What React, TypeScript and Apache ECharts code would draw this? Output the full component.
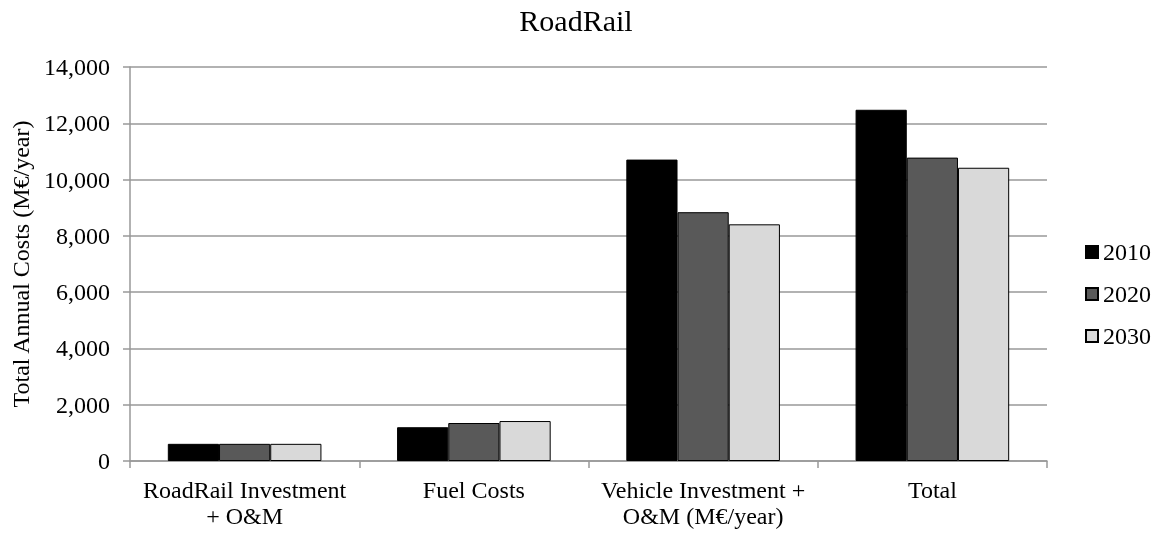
import React, { useEffect, useRef } from "react";
import * as echarts from "echarts";

const categories = ["RoadRail Investment\n+ O&M", "Fuel Costs", "Vehicle Investment +\nO&M (M€/year)", "Total"];
const s2010 = [610, 1200, 10710, 12480];
const s2020 = [610, 1350, 8840, 10780];
const s2030 = [610, 1420, 8410, 10420];
const seriesNames = ["2010", "2020", "2030"];
const colors = ["#000000", "#595959", "#d9d9d9"];

export default function App() {
  const ref = useRef<HTMLDivElement>(null);
  useEffect(() => {
    const chart = echarts.init(ref.current!, null, { renderer: "svg" });
    const font = "Liberation Serif";
    const data = [s2010, s2020, s2030];
    chart.setOption({
      animation: false,
      textStyle: { fontFamily: font },
      title: {
        text: "RoadRail",
        left: 571,
        textAlign: "center",
        top: 0,
        textStyle: { fontFamily: font, fontSize: 30, fontWeight: "normal", color: "#000" },
      },
      legend: {
        orient: "vertical",
        left: 1080,
        top: 235,
        itemWidth: 12,
        itemHeight: 12,
        itemGap: 18,
        icon: "rect",
        textStyle: { fontFamily: font, fontSize: 24, lineHeight: 24, color: "#000" },
        data: seriesNames,
      },
      grid: { left: 130, right: 114, top: 67, bottom: 74, containLabel: false },
      xAxis: {
        type: "category",
        data: categories,
        axisLine: { lineStyle: { color: "#999", width: 1.5 } },
        axisTick: { show: true, length: 7, lineStyle: { color: "#999", width: 1.5 } },
        axisLabel: { fontFamily: font, fontSize: 24, color: "#000", margin: 16, lineHeight: 26, interval: 0 },
      },
      yAxis: {
        type: "value",
        min: 0,
        max: 14000,
        interval: 2000,
        name: "Total Annual Costs (M€/year)",
        nameLocation: "middle",
        nameGap: 96,
        nameTextStyle: { fontFamily: font, fontSize: 24, color: "#000" },
        axisLine: { show: true, lineStyle: { color: "#999", width: 1.5 } },
        axisTick: { show: true, length: 7, lineStyle: { color: "#999", width: 1.5 } },
        axisLabel: {
          fontFamily: font,
          fontSize: 24,
          color: "#000",
          margin: 20,
          formatter: (v: number) => v.toLocaleString("en-US"),
        },
        splitLine: { lineStyle: { color: "#999", width: 1.5 } },
      },
      series: seriesNames.map((n, i) => ({
        name: n,
        type: "bar",
        data: data[i],
        barGap: "0%",
        barCategoryGap: "33%",
        itemStyle: { color: colors[i], borderColor: "#000", borderWidth: 1 },
      })),
    });
    return () => chart.dispose();
  }, []);
  return <div ref={ref} style={{ position: "fixed", left: 0, top: 0, width: 1161, height: 535 }} />;
}
